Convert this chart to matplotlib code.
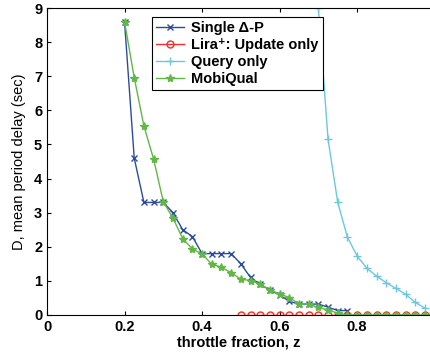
import numpy as np
import matplotlib
matplotlib.use('Agg')
import matplotlib.pyplot as plt

plt.rcParams['font.family'] = ['Liberation Sans', 'DejaVu Sans']

z_single = [0.2, 0.225, 0.25, 0.275, 0.3, 0.325, 0.35, 0.375, 0.4, 0.425, 0.45, 0.475,
            0.5, 0.525, 0.55, 0.575, 0.6, 0.625, 0.65, 0.675, 0.7, 0.725, 0.75, 0.775]
d_single = [8.6, 4.6, 3.3, 3.3, 3.3, 3.0, 2.5, 2.3, 1.8, 1.8, 1.8, 1.8,
            1.5, 1.1, 0.9, 0.73, 0.59, 0.4, 0.32, 0.32, 0.32, 0.23, 0.13, 0.13]

z_lira = [0.5, 0.525, 0.55, 0.575, 0.6, 0.625, 0.65, 0.675, 0.7, 0.725, 0.75, 0.775,
          0.8, 0.825, 0.85, 0.875, 0.9, 0.925, 0.95, 0.975]
d_lira = [0] * 20

z_query = [0.7, 0.725, 0.75, 0.775, 0.8, 0.825, 0.85, 0.875, 0.9, 0.925, 0.95, 0.975]
d_query = [9.0, 5.15, 3.3, 2.28, 1.73, 1.37, 1.14, 0.95, 0.78, 0.61, 0.37, 0.2]

z_mobi = [0.2, 0.225, 0.25, 0.275, 0.3, 0.325, 0.35, 0.375, 0.4, 0.425, 0.45, 0.475,
          0.5, 0.525, 0.55, 0.575, 0.6, 0.625, 0.65, 0.675, 0.7, 0.725, 0.75, 0.775,
          0.8, 0.825, 0.85, 0.875, 0.9, 0.925, 0.95, 0.975]
d_mobi = [8.6, 6.96, 5.54, 4.57, 3.32, 2.84, 2.24, 1.94, 1.79, 1.49, 1.4, 1.24,
          1.05, 1.01, 0.91, 0.73, 0.62, 0.51, 0.33, 0.32, 0.22, 0.15, 0.05, 0,
          0, 0, 0, 0, 0, 0, 0, 0]

fig = plt.figure(figsize=(4.3, 3.52), dpi=100)
ax = fig.add_axes([47 / 430, 37 / 352, 383 / 430, 307 / 352])

ax.plot(z_single, d_single, color='#2b4c9e', marker='x', markersize=4, lw=1, label='Single Δ-P')
ax.plot(z_lira, d_lira, color='#ff2a2a', marker='o', markersize=5, mfc='none', lw=1,
        label='Lira⁺: Update only')
ax.plot(z_query, d_query, color='#6cc8dc', marker='+', markersize=6, lw=1, label='Query only')
ax.plot(z_mobi, d_mobi, color='#62b846', marker='*', markersize=6, lw=1, label='MobiQual')

ax.set_xlim(0, 0.988)
ax.set_ylim(0, 9)
ax.set_xticks([0, 0.2, 0.4, 0.6, 0.8])
ax.set_xticklabels(['0', '0.2', '0.4', '0.6', '0.8'])
ax.set_yticks(range(10))
ax.tick_params(direction='in', top=True, right=False, labelsize=10.5, length=3)
for lab in ax.get_xticklabels() + ax.get_yticklabels():
    lab.set_fontweight('bold')
ax.spines['right'].set_visible(False)

ax.set_xlabel('throttle fraction, z', fontsize=10.5, fontweight='bold', labelpad=1)
ax.set_ylabel('D, mean period delay (sec)', fontsize=10.5, labelpad=6)

leg = ax.legend(loc='upper left', bbox_to_anchor=(0.274, 0.971), borderaxespad=0,
                fancybox=False, edgecolor='black', framealpha=1,
                prop={'weight': 'bold', 'size': 10.5},
                handlelength=1.9, labelspacing=0.2, borderpad=0.3, handletextpad=0.5)
leg.get_frame().set_linewidth(0.8)

fig.savefig('out.png', dpi=100)
